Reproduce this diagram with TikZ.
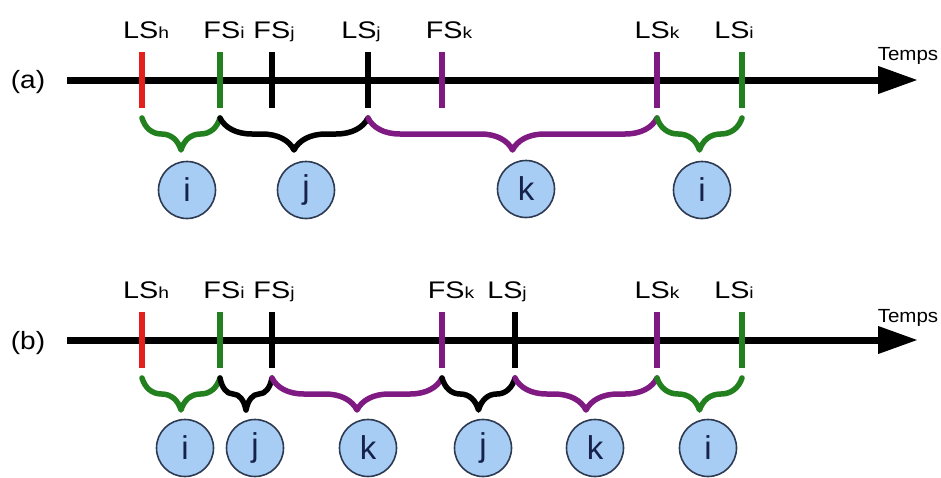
\documentclass[tikz,border=0pt]{standalone}
\usepackage{fontspec}
\setmainfont{Liberation Sans}
\newfontfamily\lblfont[FakeStretch=1.2]{Liberation Sans}
\newfontfamily\rowfont[FakeStretch=1.12]{Liberation Sans}
\newfontfamily\tmpfont[FakeStretch=1.08]{Liberation Sans}
\usetikzlibrary{arrows.meta,decorations.pathreplacing}
\definecolor{tred}{HTML}{E3211C}
\definecolor{tgreen}{HTML}{23801F}
\definecolor{tpurple}{HTML}{7E1A82}
\definecolor{cfill}{HTML}{A8CDF4}
\definecolor{cdraw}{HTML}{2E3A52}
\definecolor{ctext}{HTML}{16224A}
\newcommand\sbx[1]{{\fontsize{16}{16}\selectfont #1}}
\begin{document}
\begin{tikzpicture}[x=1pt,y=-1pt,
  axis/.style={line width=7pt,-{Triangle[length=40pt,width=26pt]}},
  tickline/.style={line width=6pt},
  brc/.style={line width=5.5pt,line cap=round,line join=round,decorate,decoration={brace,mirror,amplitude=32pt}},
  lbl/.style={anchor=base,inner sep=0pt,font=\lblfont\fontsize{24}{24}\selectfont},
  rowlbl/.style={anchor=center,inner sep=0pt,font=\rowfont\fontsize{25}{25}\selectfont},
  tlbl/.style={anchor=base,inner sep=0pt,font=\tmpfont\fontsize{19}{19}\selectfont},
  task/.style={circle,draw=cdraw,fill=cfill,line width=1.6pt,minimum size=57pt,inner sep=0pt,text=ctext,font=\fontsize{33}{33}\selectfont},
]
\useasboundingbox (0,0) rectangle (941,477);

% ---------- row (a) ----------
\node[rowlbl] (ra) at (28,82) {(a)};
\coordinate (a0) at (67,80);
\coordinate (aend) at (918,80);
\draw[axis] (a0) -- (aend);
\node[tlbl] (tempsa) at (908,60) {Temps};

\foreach \n/\x/\c in {aLSh/142/tred, aFSi/220/tgreen, aFSj/272/black, aLSj/368/black, aFSk/442/tpurple, aLSk/657/tpurple, aLSi/742/tgreen}{
  \coordinate (\n t) at (\x,52);
  \coordinate (\n b) at (\x,108);
  \coordinate (\n) at (\x,118);
  \draw[tickline,\c] (\n t) -- (\n b);
}
\node[lbl] (laLSh) at (146,38) {LS\sbx{h}};
\node[lbl] (laFSi) at (224,38) {FS\sbx{i}};
\node[lbl] (laFSj) at (274,38) {FS\sbx{j}};
\node[lbl] (laLSj) at (361,38) {LS\sbx{j}};
\node[lbl] (laFSk) at (449,38) {FS\sbx{k}};
\node[lbl] (laLSk) at (657,38) {LS\sbx{k}};
\node[lbl] (laLSi) at (734,38) {LS\sbx{i}};

\draw[brc,tgreen] (aLSh) -- (aFSi);
\draw[brc,black] (aFSi) -- (aLSj);
\draw[brc,tpurple] (aLSj) -- (aLSk);
\draw[brc,tgreen] (aLSk) -- (aLSi);

\node[task] (ai1) at (187,190) {i};
\node[task] (aj1) at (306,190) {j};
\node[task] (ak1) at (526,189) {k};
\node[task] (ai2) at (702,190) {i};

% ---------- row (b) ----------
\node[rowlbl] (rb) at (28,343) {(b)};
\coordinate (b0) at (67,340);
\coordinate (bend) at (918,340);
\draw[axis] (b0) -- (bend);
\node[tlbl] (tempsb) at (908,322) {Temps};

\foreach \n/\x/\c in {bLSh/142/tred, bFSi/220/tgreen, bFSj/272/black, bFSk/442/tpurple, bLSj/515/black, bLSk/657/tpurple, bLSi/742/tgreen}{
  \coordinate (\n t) at (\x,312);
  \coordinate (\n b) at (\x,368);
  \coordinate (\n) at (\x,378);
  \draw[tickline,\c] (\n t) -- (\n b);
}
\node[lbl] (lbLSh) at (146,298) {LS\sbx{h}};
\node[lbl] (lbFSi) at (224,298) {FS\sbx{i}};
\node[lbl] (lbFSj) at (274,298) {FS\sbx{j}};
\node[lbl] (lbFSk) at (451,298) {FS\sbx{k}};
\node[lbl] (lbLSj) at (507,298) {LS\sbx{j}};
\node[lbl] (lbLSk) at (657,298) {LS\sbx{k}};
\node[lbl] (lbLSi) at (734,298) {LS\sbx{i}};

\draw[brc,tgreen] (bLSh) -- (bFSi);
\draw[brc,black] (bFSi) -- (bFSj);
\draw[brc,tpurple] (bFSj) -- (bFSk);
\draw[brc,black] (bFSk) -- (bLSj);
\draw[brc,tpurple] (bLSj) -- (bLSk);
\draw[brc,tgreen] (bLSk) -- (bLSi);

\node[task] (bi1) at (185,448) {i};
\node[task] (bj1) at (255,448) {j};
\node[task] (bk1) at (368,448) {k};
\node[task] (bj2) at (483,448) {j};
\node[task] (bk2) at (595,448) {k};
\node[task] (bi2) at (708,448) {i};
\end{tikzpicture}
\end{document}
